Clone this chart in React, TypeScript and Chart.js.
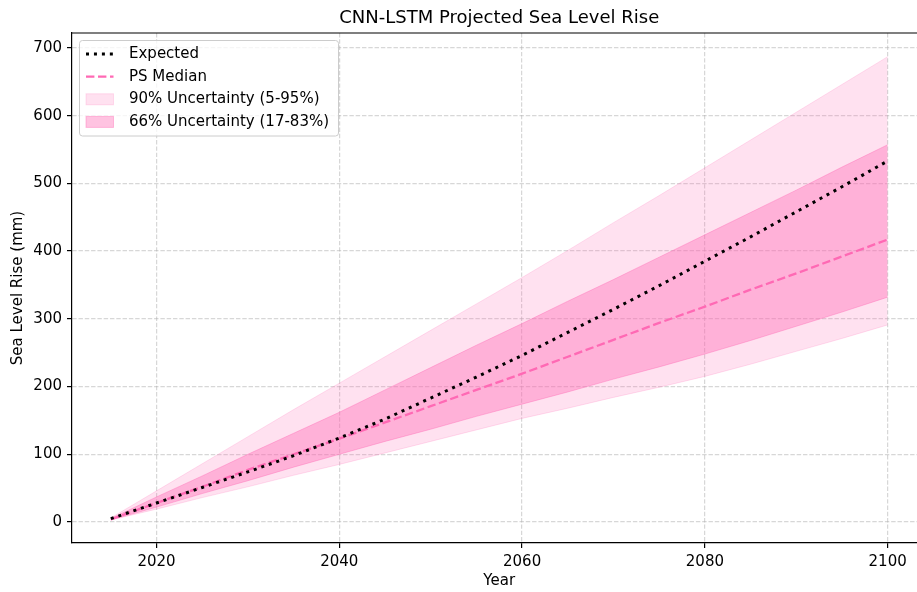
import { useEffect, useRef } from 'react';
import { Chart, registerables } from 'chart.js';

Chart.register(...registerables);

// Projection years (5-year steps)
const years = [2015, 2020, 2025, 2030, 2035, 2040, 2045, 2050, 2055, 2060, 2065, 2070, 2075, 2080, 2085, 2090, 2095, 2100];

// Sea level rise in mm
const expected = [5, 28, 51, 74, 98, 124, 152, 183, 214, 246, 280, 314, 349, 385, 421, 458, 495, 533];
const psMedian = [4, 28, 52, 77, 100, 123, 147, 171, 195, 219, 244, 269, 294, 318, 343, 367, 392, 417];
const p5 = [3, 19, 36, 52, 69, 85, 102, 119, 136, 153, 168, 184, 199, 215, 233, 252, 271, 291];
const p95 = [6, 46, 86, 126, 166, 205, 244, 283, 322, 361, 401, 442, 482, 523, 564, 605, 646, 687];
const p17 = [3, 22, 42, 61, 81, 100, 119, 137, 156, 174, 192, 211, 229, 248, 268, 289, 310, 332];
const p83 = [5, 37, 68, 100, 131, 162, 195, 228, 261, 293, 326, 358, 391, 424, 457, 490, 524, 557];

const xTicks = [2020, 2040, 2060, 2080, 2100];
const yTicks = [0, 100, 200, 300, 400, 500, 600, 700];

const chartTitle = 'CNN-LSTM Projected Sea Level Rise';
const xLabel = 'Year';
const yLabel = 'Sea Level Rise (mm)';
const legendLabels = ['Expected', 'PS Median', '90% Uncertainty (5-95%)', '66% Uncertainty (17-83%)'];

const FONT = "'DejaVu Sans', sans-serif";
const PINK = 'rgb(255,105,180)';
const BAND90 = 'rgba(255,105,180,0.2)';
const BAND66 = 'rgba(255,105,180,0.4)';
const GRID = 'rgba(176,176,176,0.5)';

const pts = (vals: number[]) => years.map((y, i) => ({ x: y, y: vals[i] }));

// Title centred over the plot area, top spine and an in-plot legend
const decorations = {
  id: 'decorations',
  afterDraw(chart: any) {
    const { ctx, chartArea } = chart;
    const { left, right, top } = chartArea;
    ctx.save();

    // title
    ctx.fillStyle = '#000';
    ctx.font = `18px ${FONT}`;
    ctx.textAlign = 'center';
    ctx.textBaseline = 'middle';
    ctx.fillText(chartTitle, (left + right) / 2, 18.5);

    // top spine
    ctx.strokeStyle = '#000';
    ctx.lineWidth = 1.2;
    ctx.beginPath();
    ctx.moveTo(left - 0.6, top);
    ctx.lineTo(right, top);
    ctx.stroke();

    // legend frame
    const bx = left + 7.5;
    const by = top + 7.5;
    const bw = 259;
    const bh = 95.5;
    const r = 3;
    ctx.beginPath();
    ctx.moveTo(bx + r, by);
    ctx.lineTo(bx + bw - r, by);
    ctx.quadraticCurveTo(bx + bw, by, bx + bw, by + r);
    ctx.lineTo(bx + bw, by + bh - r);
    ctx.quadraticCurveTo(bx + bw, by + bh, bx + bw - r, by + bh);
    ctx.lineTo(bx + r, by + bh);
    ctx.quadraticCurveTo(bx, by + bh, bx, by + bh - r);
    ctx.lineTo(bx, by + r);
    ctx.quadraticCurveTo(bx, by, bx + r, by);
    ctx.closePath();
    ctx.fillStyle = 'rgba(255,255,255,0.8)';
    ctx.fill();
    ctx.strokeStyle = 'rgb(204,204,204)';
    ctx.lineWidth = 1;
    ctx.stroke();

    const hx0 = left + 14;
    const hx1 = left + 41.5;
    const tx = left + 57;
    const rows = [top + 21, top + 43.7, top + 66.3, top + 88.9];

    // Expected handle
    ctx.save();
    ctx.strokeStyle = '#000';
    ctx.lineWidth = 3;
    ctx.setLineDash([3, 4.95]);
    ctx.beginPath();
    ctx.moveTo(hx0, rows[0]);
    ctx.lineTo(hx1, rows[0]);
    ctx.stroke();
    // PS Median handle
    ctx.strokeStyle = PINK;
    ctx.lineWidth = 2.3;
    ctx.setLineDash([8.4, 3.6]);
    ctx.beginPath();
    ctx.moveTo(hx0, rows[1]);
    ctx.lineTo(hx1, rows[1]);
    ctx.stroke();
    ctx.restore();

    // band patches
    const patch = (cy: number, color: string) => {
      ctx.fillStyle = color;
      ctx.fillRect(hx0, cy - 5.5, hx1 - hx0, 11);
      ctx.strokeStyle = color;
      ctx.lineWidth = 1;
      ctx.strokeRect(hx0, cy - 5.5, hx1 - hx0, 11);
    };
    patch(rows[2], BAND90);
    patch(rows[3], BAND66);

    ctx.fillStyle = '#000';
    ctx.font = `15px ${FONT}`;
    ctx.textAlign = 'left';
    ctx.textBaseline = 'middle';
    legendLabels.forEach((lab, i) => ctx.fillText(lab, tx, rows[i]));

    ctx.restore();
  },
};

export default function App() {
  const ref = useRef<HTMLCanvasElement | null>(null);

  useEffect(() => {
    if (!ref.current) return;
    const chart = new Chart(ref.current, {
      type: 'line',
      data: {
        datasets: [
          {
            label: legendLabels[0],
            data: pts(expected),
            borderColor: '#000',
            borderWidth: 3,
            borderDash: [3, 4.95],
            pointRadius: 0,
            fill: false,
            order: 0,
          },
          {
            label: legendLabels[1],
            data: pts(psMedian),
            borderColor: PINK,
            borderWidth: 2.3,
            borderDash: [8.4, 3.6],
            pointRadius: 0,
            fill: false,
            order: 1,
          },
          {
            label: legendLabels[3],
            data: pts(p83),
            borderColor: BAND66,
            backgroundColor: BAND66,
            borderWidth: 1,
            pointRadius: 0,
            fill: '+1',
            order: 2,
          },
          {
            label: '17%',
            data: pts(p17),
            borderColor: BAND66,
            borderWidth: 1,
            pointRadius: 0,
            fill: false,
            order: 3,
          },
          {
            label: legendLabels[2],
            data: pts(p95),
            borderColor: BAND90,
            backgroundColor: BAND90,
            borderWidth: 1,
            pointRadius: 0,
            fill: '+1',
            order: 4,
          },
          {
            label: '5%',
            data: pts(p5),
            borderColor: BAND90,
            borderWidth: 1,
            pointRadius: 0,
            fill: false,
            order: 5,
          },
        ],
      },
      options: {
        responsive: false,
        animation: false,
        devicePixelRatio: 1,
        layout: { padding: { top: 33, right: 13.5, left: 0, bottom: 0 } },
        plugins: {
          legend: { display: false },
          title: { display: false },
          tooltip: { enabled: false },
        },
        scales: {
          x: {
            type: 'linear',
            min: 2010.75,
            max: 2104.25,
            afterBuildTicks: (s: any) => {
              s.ticks = xTicks.map((v) => ({ value: v }));
            },
            afterFit: (s: any) => {
              s.height = 49;
            },
            grid: {
              color: GRID,
              lineWidth: 1.2,
              tickColor: '#000',
              tickLength: 5,
              tickWidth: 1.2,
              tickBorderDash: [],
            },
            border: { display: true, color: '#000', width: 1.2, dash: [4.4, 1.9] },
            ticks: {
              color: '#000',
              font: { family: FONT, size: 15 },
              padding: 5,
              maxRotation: 0,
              callback: (v: any) => String(v),
            },
            title: {
              display: true,
              text: xLabel,
              color: '#000',
              font: { family: FONT, size: 15 },
              padding: { top: 0, bottom: 1.5 },
            },
          },
          y: {
            type: 'linear',
            min: -31,
            max: 722,
            afterBuildTicks: (s: any) => {
              s.ticks = yTicks.map((v) => ({ value: v }));
            },
            afterFit: (s: any) => {
              s.width = 72;
            },
            grid: {
              color: GRID,
              lineWidth: 1.2,
              tickColor: '#000',
              tickLength: 5,
              tickWidth: 1.2,
              tickBorderDash: [],
            },
            border: { display: true, color: '#000', width: 1.2, dash: [4.4, 1.9] },
            ticks: {
              color: '#000',
              font: { family: FONT, size: 15 },
              padding: 5,
              callback: (v: any) => String(v),
            },
            title: {
              display: true,
              text: yLabel,
              color: '#000',
              font: { family: FONT, size: 15 },
              padding: { top: 9, bottom: 0 },
            },
          },
        },
      },
      plugins: [decorations],
    } as any);
    return () => chart.destroy();
  }, []);

  return (
    <div
      style={{
        position: 'fixed',
        left: 0,
        top: 0,
        width: 917,
        height: 592,
        overflow: 'hidden',
        background: '#fff',
      }}
    >
      <canvas ref={ref} width={940} height={592} style={{ display: 'block', width: 940, height: 592 }} />
    </div>
  );
}
